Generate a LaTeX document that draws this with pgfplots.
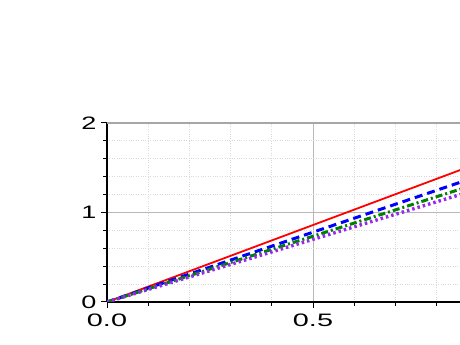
\documentclass[border=0pt]{standalone}
\usepackage{pgfplots}
\pgfplotsset{compat=1.18}
\usepackage{fontspec}
\setmainfont{Liberation Sans}
\definecolor{lineviolet}{RGB}{150,40,235}

\begin{document}
\begin{tikzpicture}
\path[use as bounding box] (0,0) rectangle (460pt,345pt);
\clip (0,0) rectangle (460pt,345pt);
\begin{axis}[
    at={(107pt,43pt)}, anchor=south west,
    scale only axis,
    width=412pt, height=179pt,
    xmin=0, xmax=1, ymin=0, ymax=2,
    xtick={0,0.5,1}, ytick={0,1,2},
    xticklabels={\scalebox{1.6}[1]{0.0},\scalebox{1.6}[1]{0.5},},
    yticklabels={\scalebox{1.5}[1]{0},\scalebox{1.5}[1]{1},\scalebox{1.5}[1]{2}},
    minor x tick num=4, minor y tick num=4,
    grid=both,
    major grid style={gray!55, line width=0.8pt},
    minor grid style={gray!30, dotted, line width=0.8pt},
    xtick pos=bottom, ytick pos=left,
    tick align=outside,
    major tick length=6pt, minor tick length=4pt,
    tick style={black, line width=1pt},
    axis line style={line width=1.5pt},
    tick label style={font=\fontsize{18}{18}\selectfont},
    xticklabel style={yshift=-2pt},
    yticklabel style={xshift=-1pt},
    axis y line*=left,
    axis x line*=bottom,
]
% top frame line
\draw[gray!70, line width=1.2pt] (axis cs:0,2) -- (axis cs:1,2);

\addplot[color=red, line width=1.8pt] coordinates {
    (0,0) (0.25,0.43) (0.5,0.86) (0.75,1.29) (1,1.72)
};
\addplot[color=blue, line width=3pt, dash pattern=on 8pt off 5pt] coordinates {
    (0,0) (0.25,0.39) (0.5,0.78) (0.75,1.17) (1,1.56)
};
\addplot[color=green!50!black, line width=3pt, dash pattern=on 7pt off 3pt on 2pt off 3pt] coordinates {
    (0,0) (0.25,0.3675) (0.5,0.735) (0.75,1.1025) (1,1.47)
};
\addplot[color=lineviolet, line width=3.4pt, dash pattern=on 2.5pt off 3pt] coordinates {
    (0,0) (0.25,0.35) (0.5,0.70) (0.75,1.05) (1,1.40)
};
\end{axis}
\end{tikzpicture}
\end{document}
